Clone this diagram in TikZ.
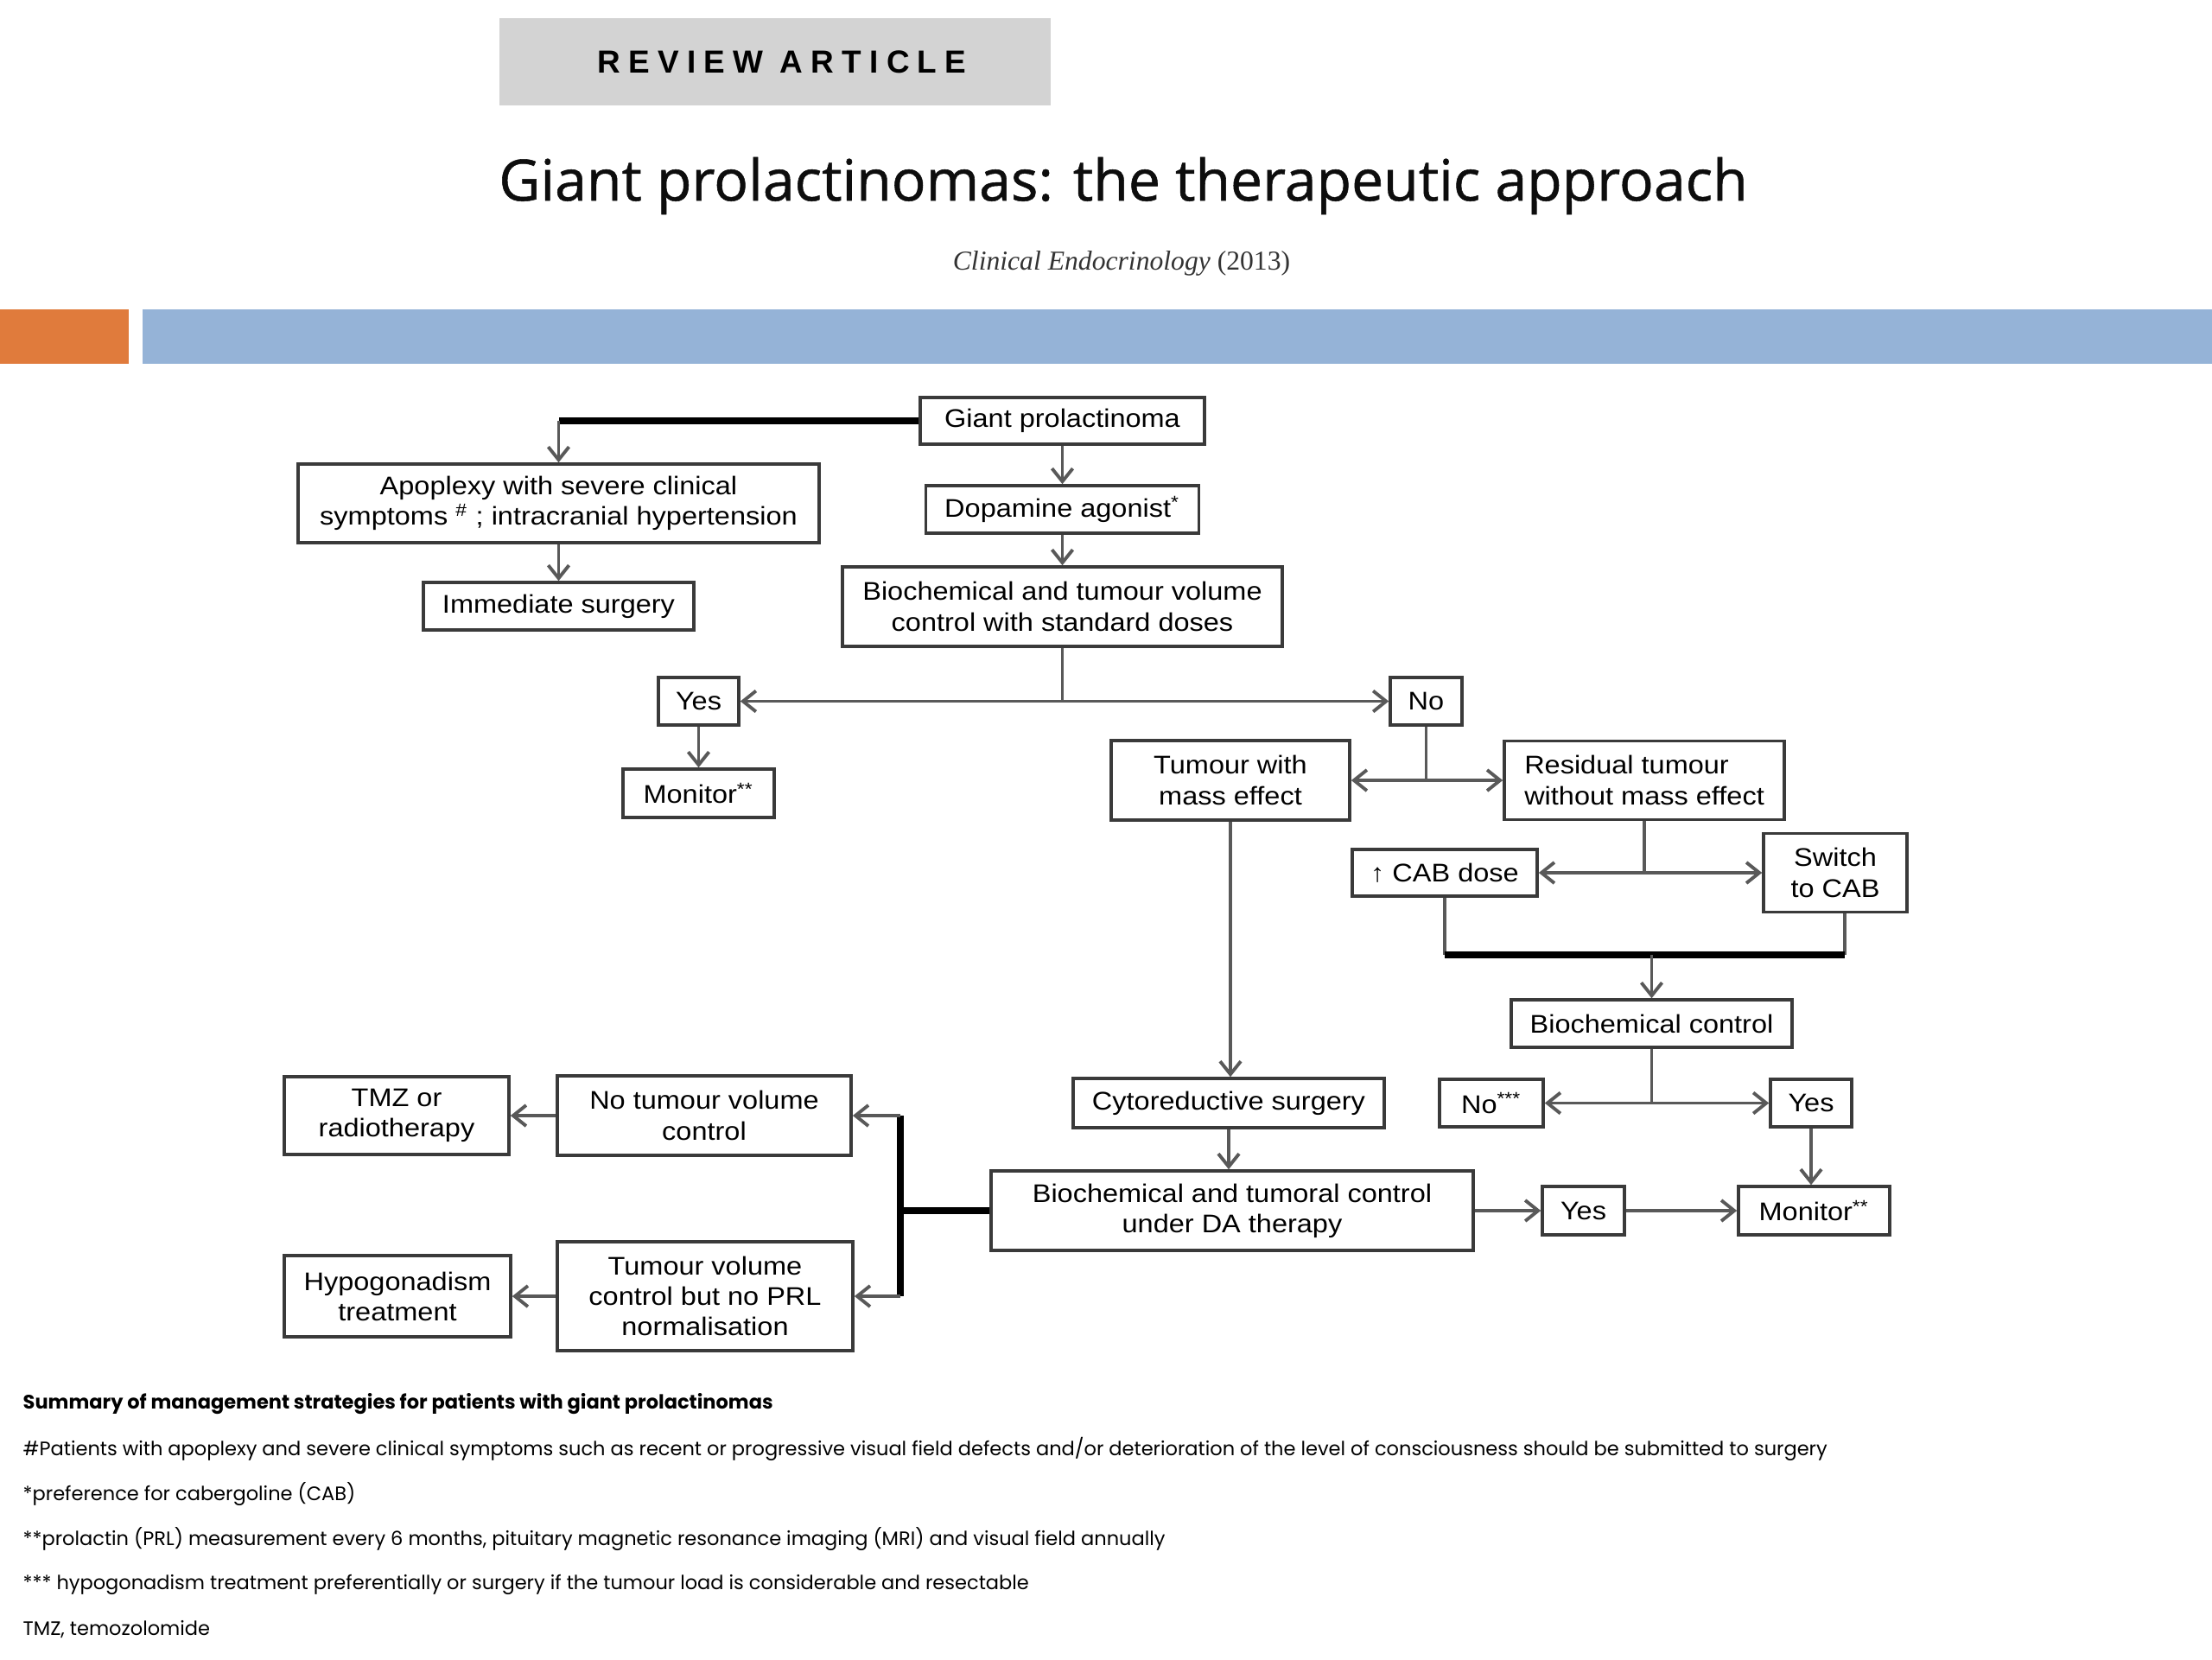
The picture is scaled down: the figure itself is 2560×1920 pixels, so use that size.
\documentclass[tikz,border=0pt]{standalone}
\usepackage{fontspec}
\setmainfont{Liberation Sans}[FakeStretch=1.1]
\newfontfamily\headfont{Liberation Sans}[LetterSpace=25]
\newfontfamily\titlefont{Open Sans}[FakeBold=0.8]
\newfontfamily\citefont{Liberation Serif}
\newfontfamily\notefont{Poppins}
\usetikzlibrary{arrows.meta}

\definecolor{bandblue}{HTML}{95B3D7}
\definecolor{bandorange}{HTML}{E07B3C}
\definecolor{tabgray}{HTML}{D3D3D3}
\definecolor{edgegray}{HTML}{3A3A3A}

\begin{document}
\begin{tikzpicture}[x=0.01cm, y=-0.01cm,
  box/.style={draw=edgegray, line width=1pt, fill=white, align=center,
    inner sep=0pt, font=\fontsize{8.4}{10}\selectfont},
  link/.style={draw=black!65, line width=1.1pt, -{Straight Barb[length=1.5mm, width=2.4mm]}},
  wire/.style={draw=black!65, line width=1.1pt},
  trunk/.style={draw=black, line width=2.2pt},
  note/.style={anchor=west, inner sep=0pt, font=\notefont\fontsize{6.4}{8}\selectfont}]

  \useasboundingbox (0,0) rectangle (2560,1920);

  % Header: tab, title, journal
  \fill[tabgray] (578,21) rectangle (1216,122);
  \node[font=\headfont\bfseries\fontsize{10.5}{12}\selectfont] (tab) at (905,72) {REVIEW ARTICLE};
  \node[font=\titlefont\fontsize{18.8}{22}\selectfont, text=black!95] (title) at (1300,215) {Giant prolactinomas: the therapeutic approach};
  \node[font=\citefont\fontsize{9}{11}\selectfont, text=black!80] (journal) at (1298,305) {\textit{Clinical Endocrinology} (2013)};

  % Colour bands
  \fill[bandorange] (0,358) rectangle (149,421);
  \fill[bandblue] (165,358) rectangle (2560,421);

  % Boxes: first line of treatment
  \node[box, minimum width=3.29cm, minimum height=0.54cm] (giant) at (1229.5,487) {Giant prolactinoma};
  \node[box, minimum width=6.03cm, minimum height=0.91cm] (apoplexy) at (646.5,582.5) {Apoplexy with severe clinical\\symptoms \textsuperscript{\#} ; intracranial hypertension};
  \node[box, minimum width=3.16cm, minimum height=0.55cm] (dopamine) at (1229.5,589.5) {Dopamine agonist\textsuperscript{*}};
  \node[box, minimum width=3.13cm, minimum height=0.55cm] (immediate) at (646.5,701.5) {Immediate surgery};
  \node[box, minimum width=5.09cm, minimum height=0.92cm] (biochemA) at (1229.5,702) {Biochemical and tumour volume\\control with standard doses};
  \node[box, minimum width=0.93cm, minimum height=0.55cm] (yesA) at (808.5,811.5) {Yes};
  \node[box, minimum width=0.83cm, minimum height=0.55cm] (noA) at (1650.5,811.5) {No};
  \node[box, minimum width=1.75cm, minimum height=0.56cm] (monitorA) at (808.5,918) {Monitor\textsuperscript{**}};

  % Boxes: no control with standard doses
  \node[box, minimum width=2.76cm, minimum height=0.92cm] (mass) at (1424,903) {Tumour with\\mass effect};
  \node[box, minimum width=3.24cm, minimum height=0.91cm, align=left] (residual) at (1903,903) {Residual tumour\\without mass effect};
  \node[box, minimum width=2.14cm, minimum height=0.54cm] (cabdose) at (1672,1010) {↑ CAB dose};
  \node[box, minimum width=1.66cm, minimum height=0.91cm] (switch) at (2124,1010) {Switch\\to CAB};
  \node[box, minimum width=3.25cm, minimum height=0.55cm] (bioctrl) at (1911.5,1184.5) {Biochemical control};
  \node[box, minimum width=1.20cm, minimum height=0.55cm] (noB) at (1726,1276.5) {No\textsuperscript{***}};
  \node[box, minimum width=0.94cm, minimum height=0.55cm] (yesB) at (2096,1276.5) {Yes};

  % Boxes: surgery and after
  \node[box, minimum width=3.60cm, minimum height=0.57cm] (cyto) at (1422,1276.5) {Cytoreductive surgery};
  \node[box, minimum width=5.58cm, minimum height=0.92cm] (biochemDA) at (1426,1401) {Biochemical and tumoral control\\under DA therapy};
  \node[box, minimum width=0.95cm, minimum height=0.56cm] (yesC) at (1832.5,1401) {Yes};
  \node[box, minimum width=1.75cm, minimum height=0.56cm] (monitorB) at (2099.5,1401) {Monitor\textsuperscript{**}};
  \node[box, minimum width=3.40cm, minimum height=0.92cm] (nocontrol) at (815,1291) {No tumour volume\\control};
  \node[box, minimum width=2.60cm, minimum height=0.90cm] (tmz) at (459,1291) {TMZ or\\radiotherapy};
  \node[box, minimum width=3.42cm, minimum height=1.26cm] (volctrl) at (816,1500) {Tumour volume\\control but no PRL\\normalisation};
  \node[box, minimum width=2.62cm, minimum height=0.94cm] (hypo) at (460,1500) {Hypogonadism\\treatment};

  % Helper points for the forks
  \coordinate (mergeY) at (0,1105);
  \coordinate (forkX) at (1042,0);
  \coordinate (switchfoot) at ([xshift=0.11cm]switch.south);

  % Top: giant prolactinoma
  \draw[trunk] (giant.west) -- (giant.west -| apoplexy.north) coordinate (topbend);
  \draw[link] (topbend) -- (apoplexy.north);
  \draw[link] (apoplexy.south) -- (immediate.north);
  \draw[link] (giant.south) -- (dopamine.north);
  \draw[link] (dopamine.south) -- (biochemA.north);

  % Standard doses: yes / no
  \draw[wire] (biochemA.south) -- (biochemA.south |- yesA.east) coordinate (splitA);
  \draw[link] (splitA) -- (yesA.east);
  \draw[link] (splitA) -- (noA.west);
  \draw[link] (yesA.south) -- (monitorA.north);

  % No: mass effect or residual tumour
  \draw[wire] (noA.south) -- (noA.south |- mass.east) coordinate (splitB);
  \draw[link] (splitB) -- (mass.east);
  \draw[link] (splitB) -- (residual.west);
  \draw[wire] (residual.south) -- (residual.south |- cabdose.east) coordinate (splitC);
  \draw[link] (splitC) -- (cabdose.east);
  \draw[link] (splitC) -- (switch.west);

  % Both CAB options meet
  \draw[wire] (cabdose.south) -- (cabdose.south |- mergeY);
  \draw[wire] (switchfoot) -- (switchfoot |- mergeY);
  \draw[trunk] (cabdose.south |- mergeY) -- (switchfoot |- mergeY);
  \draw[link] (bioctrl.north |- mergeY) -- (bioctrl.north);
  \draw[wire] (bioctrl.south) -- (bioctrl.south |- noB.east) coordinate (splitD);
  \draw[link] (splitD) -- (noB.east);
  \draw[link] (splitD) -- (yesB.west);
  \draw[link] (yesB.south) -- (yesB.south |- monitorB.north);

  % Surgery branch
  \draw[link] (mass.south) -- (mass.south |- cyto.north);
  \draw[link] (cyto.south) -- (cyto.south |- biochemDA.north);
  \draw[link] (biochemDA.east) -- (yesC.west);
  \draw[link] (yesC.east) -- (monitorB.west);

  % Left fork under DA therapy
  \draw[trunk] (biochemDA.west) -- (biochemDA.west -| forkX);
  \draw[trunk] (forkX |- nocontrol.east) -- (forkX |- volctrl.east);
  \draw[link] (forkX |- nocontrol.east) -- (nocontrol.east);
  \draw[link] (forkX |- volctrl.east) -- (volctrl.east);
  \draw[link] (nocontrol.west) -- (tmz.east);
  \draw[link] (volctrl.west) -- (hypo.east);

  % Footnotes
  \node[note, font=\notefont\bfseries\fontsize{6.4}{8}\selectfont] (notehead) at (26,1625) {Summary of management strategies for patients with giant prolactinomas};
  \node[note] (noteA) at (26,1677) {\#Patients with apoplexy and severe clinical symptoms such as recent or progressive visual field defects and/or deterioration of the level of consciousness should be submitted to surgery};
  \node[note] (noteB) at (26,1729) {*preference for cabergoline (CAB)};
  \node[note] (noteC) at (26,1781) {**prolactin (PRL) measurement every 6 months, pituitary magnetic resonance imaging (MRI) and visual field annually};
  \node[note] (noteD) at (26,1834) {*** hypogonadism treatment preferentially or surgery if the tumour load is considerable and resectable};
  \node[note] (noteE) at (26,1886) {TMZ, temozolomide};
\end{tikzpicture}
\end{document}
